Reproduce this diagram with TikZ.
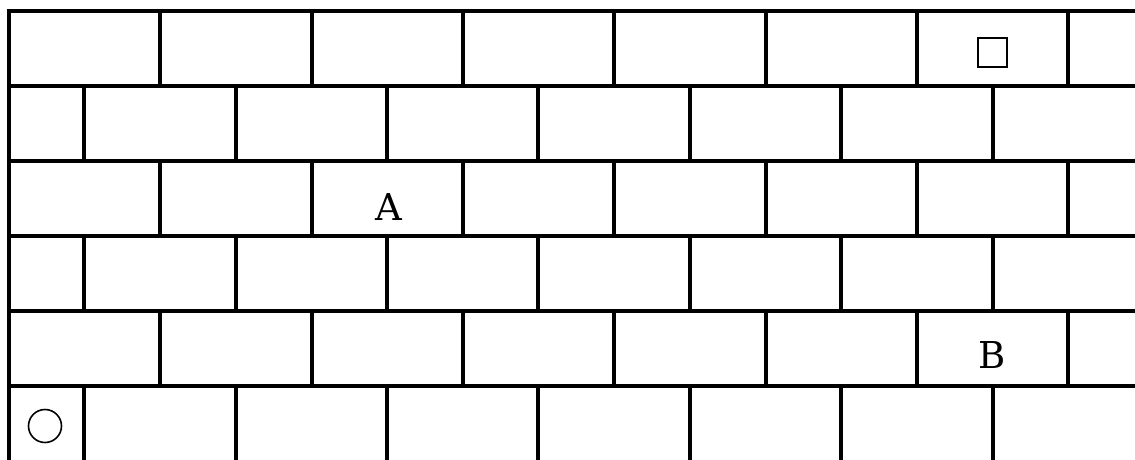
\documentclass[tikz,border=0pt]{standalone}
\usepackage{fontspec}
\newfontfamily\lblfont{DejaVu Serif}
\begin{document}
\begin{tikzpicture}[x=1pt,y=-1pt,
  wall/.style={line width=3.2pt,line cap=rect},
  lbl/.style={font=\lblfont\fontsize{37}{37}\selectfont,inner sep=0pt}]
\useasboundingbox (0,0) rectangle (1135,459);
% horizontal courses
\foreach \y in {11,86,161,236,311,386}
  \draw[wall] (9,\y) -- (1135,\y);
% left border
\draw[wall] (9,11) -- (9,459);
% odd rows
\foreach \t/\b in {11/86,161/236,311/386}
  \foreach \x in {160,312,463,614,766,917,1068}
    \draw[wall] (\x,\t) -- (\x,\b);
% even rows
\foreach \t/\b in {86/161,236/311,386/459}
  \foreach \x in {84,236,387,538,690,841,993}
    \draw[wall] (\x,\t) -- (\x,\b);
% marks
\node[draw,line width=2pt,minimum size=29pt,inner sep=0pt] (sq) at (992,52) {};
\node[draw,circle,line width=1.6pt,minimum size=33pt,inner sep=0pt] (ci) at (45,426) {};
\node[lbl] (A) at (389,207) {A};
\node[lbl] (B) at (992,355) {B};
\end{tikzpicture}
\end{document}
